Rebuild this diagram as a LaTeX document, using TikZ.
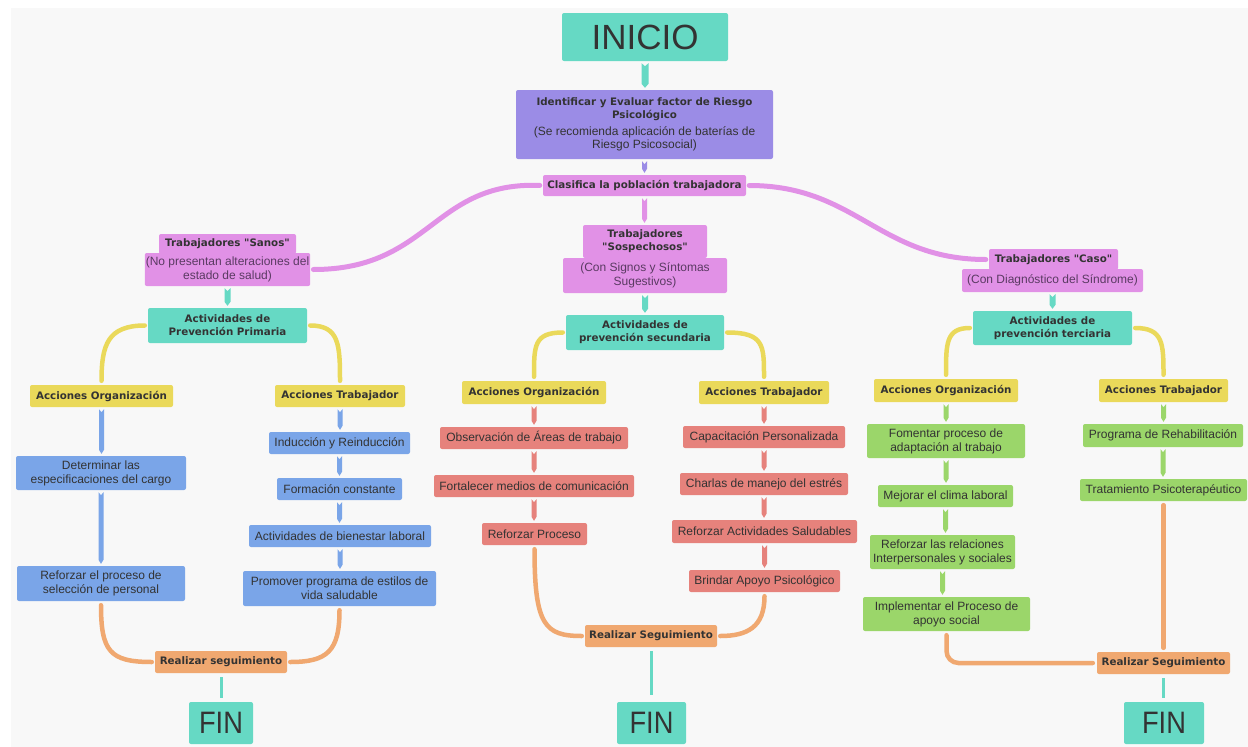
\documentclass[tikz,border=0pt]{standalone}
\usepackage{fontspec}
\usepackage{graphicx}
\setmainfont{Liberation Sans}
\newfontfamily\tfont{DejaVu Sans}
\usetikzlibrary{arrows.meta,calc}
\definecolor{cteal}{HTML}{66D9C4}
\definecolor{cpurp}{HTML}{9B8CE6}
\definecolor{cpink}{HTML}{E191E6}
\definecolor{cyell}{HTML}{EAD95A}
\definecolor{cblue}{HTML}{7AA5E8}
\definecolor{cred}{HTML}{E6827C}
\definecolor{cgreen}{HTML}{9BD66A}
\definecolor{corange}{HTML}{F0A870}
\definecolor{txt}{HTML}{333333}
\definecolor{ptxt}{HTML}{5A3A62}
\definecolor{bg}{HTML}{F8F8F8}
\newcommand{\bt}{\tfont\bfseries\fontsize{10.3}{13}\selectfont}
\newcommand{\rt}{\rmfamily\mdseries\fontsize{12}{14}\selectfont}
\newcommand{\fintxt}{\fontsize{31}{33}\selectfont\scalebox{0.88}[1]{FIN}}
% ribbon connector: colour, half width, from node, to node
\newcommand{\cn}[4]{\fill[#1] let \p1=(#3.south), \p2=(#4.north) in
  ({\x1-#2pt},{\y1-2pt}) -- ({\x1},{\y1-5pt}) -- ({\x1+#2pt},{\y1-2pt}) --
  ({\x1+#2pt},{\y2+6pt}) -- ({\x1},{\y2+2pt}) -- ({\x1-#2pt},{\y2+6pt}) -- cycle;}
\begin{document}
\begin{tikzpicture}[x=1pt,y=-1pt,
  box/.style={rounded corners=2pt, inner sep=1pt, align=center, text=txt, font=\fontsize{12}{14}\selectfont},
  bt/.style={box, font=\bt},
  crv/.style={line width=4.5pt, line cap=round},
]
\useasboundingbox (0,0) rectangle (1248,747);
\fill[white] (0,0) rectangle (1248,747);
\fill[bg] (11,8) rectangle (1248,747);

% top
\node[box, fill=cteal, minimum width=166pt, minimum height=48pt, font=\fontsize{35}{38}\selectfont] (ini) at (645,37) {INICIO};
\node[box, fill=cpurp, minimum width=257pt, minimum height=69pt, font=\bt] (ide) at (644.5,124.5) {Identificar y Evaluar factor de Riesgo\\ Psicológico\\[4pt] \rt (Se recomienda aplicación de baterías de\\ \rt Riesgo Psicosocial)};
\node[bt, fill=cpink, minimum width=203pt, minimum height=21pt] (cla) at (644.5,185.5) {Clasifica la población trabajadora};

% pink groups
\node[bt, fill=cpink, minimum width=137pt, minimum height=20pt] (sant) at (227.5,244) {Trabajadores "Sanos"};
\node[box, fill=cpink, text=ptxt, minimum width=165pt, minimum height=33pt] (sans) at (227.5,269.5) {(No presentan alteraciones del\\ estado de salud)};
\node[bt, fill=cpink, minimum width=124pt, minimum height=33pt] (sost) at (645,241.5) {Trabajadores\\ "Sospechosos"};
\node[box, fill=cpink, text=ptxt, minimum width=164pt, minimum height=35pt] (soss) at (645,275.5) {(Con Signos y Síntomas\\ Sugestivos)};
\node[bt, fill=cpink, minimum width=129pt, minimum height=21pt] (cast) at (1053.5,259.5) {Trabajadores "Caso"};
\node[box, fill=cpink, text=ptxt, minimum width=181pt, minimum height=23pt] (cass) at (1052.5,280.5) {(Con Diagnóstico del Síndrome)};

% actividades
\node[bt, fill=cteal, minimum width=159pt, minimum height=35pt] (ap) at (227.5,325.5) {Actividades de\\ Prevención Primaria};
\node[bt, fill=cteal, minimum width=158pt, minimum height=35pt] (as) at (645,332.5) {Actividades de\\ prevención secundaria};
\node[bt, fill=cteal, minimum width=159pt, minimum height=34pt] (at) at (1052.5,328) {Actividades de\\ prevención terciaria};

% acciones
\node[bt, fill=cyell, minimum width=143pt, minimum height=22pt] (ao1) at (101.5,396) {Acciones Organización};
\node[bt, fill=cyell, minimum width=130pt, minimum height=22pt] (at1) at (340,396) {Acciones Trabajador};
\node[bt, fill=cyell, minimum width=144pt, minimum height=23pt] (ao2) at (534,392.5) {Acciones Organización};
\node[bt, fill=cyell, minimum width=130pt, minimum height=23pt] (at2) at (764,392.5) {Acciones Trabajador};
\node[bt, fill=cyell, minimum width=144pt, minimum height=23pt] (ao3) at (946,390.5) {Acciones Organización};
\node[bt, fill=cyell, minimum width=129pt, minimum height=23pt] (at3) at (1163.5,390.5) {Acciones Trabajador};

% blue
\node[box, fill=cblue, minimum width=170pt, minimum height=34pt] (b1) at (101,473) {Determinar las\\ especificaciones del cargo};
\node[box, fill=cblue, minimum width=168pt, minimum height=35pt] (b2) at (101,583.5) {Reforzar el proceso de\\ selección de personal};
\node[box, fill=cblue, minimum width=141pt, minimum height=22pt] (b3) at (339.5,443) {Inducción y Reinducción};
\node[box, fill=cblue, minimum width=125pt, minimum height=22pt] (b4) at (339.5,489) {Formación constante};
\node[box, fill=cblue, minimum width=182pt, minimum height=22pt] (b5) at (340,536) {Actividades de bienestar laboral};
\node[box, fill=cblue, minimum width=193pt, minimum height=35pt] (b6) at (339.5,588.5) {Promover programa de estilos de\\ vida saludable};

% red
\node[box, fill=cred, minimum width=188pt, minimum height=22pt] (r1) at (534,438) {Observación de Áreas de trabajo};
\node[box, fill=cred, minimum width=200pt, minimum height=22pt] (r2) at (534,486) {Fortalecer medios de comunicación};
\node[box, fill=cred, minimum width=105pt, minimum height=22pt] (r3) at (534.5,534) {Reforzar Proceso};
\node[box, fill=cred, minimum width=162pt, minimum height=22pt] (r4) at (764,437) {Capacitación Personalizada};
\node[box, fill=cred, minimum width=168pt, minimum height=22pt] (r5) at (764,484) {Charlas de manejo del estrés};
\node[box, fill=cred, minimum width=185pt, minimum height=23pt] (r6) at (764.5,531.5) {Reforzar Actividades Saludables};
\node[box, fill=cred, minimum width=151pt, minimum height=22pt] (r7) at (764.5,581) {Brindar Apoyo Psicológico};

% green
\node[box, fill=cgreen, minimum width=158pt, minimum height=34pt] (g1) at (946,441) {Fomentar proceso de\\ adaptación al trabajo};
\node[box, fill=cgreen, minimum width=135pt, minimum height=22pt] (g2) at (945.5,496) {Mejorar el clima laboral};
\node[box, fill=cgreen, minimum width=145pt, minimum height=34pt] (g3) at (942.5,552) {Reforzar las relaciones\\ Interpersonales y sociales};
\node[box, fill=cgreen, minimum width=167pt, minimum height=34pt] (g4) at (946.5,614) {Implementar el Proceso de\\ apoyo social};
\node[box, fill=cgreen, minimum width=160pt, minimum height=23pt] (g5) at (1163,435.5) {Programa de Rehabilitación};
\node[box, fill=cgreen, minimum width=167pt, minimum height=22pt] (g6) at (1163.5,490) {Tratamiento Psicoterapéutico};

% seguimiento
\node[bt, fill=corange, minimum width=132pt, minimum height=22pt] (s1) at (221,662) {Realizar seguimiento};
\node[bt, fill=corange, minimum width=132pt, minimum height=22pt] (s2) at (651,636) {Realizar Seguimiento};
\node[bt, fill=corange, minimum width=133pt, minimum height=22pt] (s3) at (1163.5,663) {Realizar Seguimiento};

% FIN
\node[box, fill=cteal, minimum width=64pt, minimum height=42pt] (f1) at (221,723) {\fintxt};
\node[box, fill=cteal, minimum width=69pt, minimum height=42pt] (f2) at (651.5,723) {\fintxt};
\node[box, fill=cteal, minimum width=80pt, minimum height=42pt] (f3) at (1164,723) {\fintxt};

% straight ribbon connectors
\cn{cteal}{3.5}{ini}{ide}
\cn{cpurp}{2.5}{ide}{cla}
\cn{cpink}{2.5}{cla}{sost}
\cn{cteal}{3}{sans}{ap}
\cn{cteal}{3}{soss}{as}
\cn{cteal}{3}{cass}{at}

\cn{cblue}{2.5}{ao1}{b1}
\cn{cblue}{2.5}{b1}{b2}
\cn{cblue}{2.5}{at1}{b3}
\cn{cblue}{2.5}{b3}{b4}
\cn{cblue}{2.5}{b4}{b5}
\cn{cblue}{2.5}{b5}{b6}

\cn{cred}{2.5}{ao2}{r1}
\cn{cred}{2.5}{r1}{r2}
\cn{cred}{2.5}{r2}{r3}
\cn{cred}{2.5}{at2}{r4}
\cn{cred}{2.5}{r4}{r5}
\cn{cred}{2.5}{r5}{r6}
\cn{cred}{2.5}{r6}{r7}

\cn{cgreen}{2.5}{ao3}{g1}
\cn{cgreen}{2.5}{g1}{g2}
\cn{cgreen}{2.5}{g2}{g3}
\cn{cgreen}{2.5}{g3}{g4}
\cn{cgreen}{2.5}{at3}{g5}
\cn{cgreen}{2.5}{g5}{g6}

\draw[cteal, line width=3pt, shorten <=4pt, shorten >=4pt] (s1.south) -- (s1.south |- f1.north);
\draw[cteal, line width=3pt, shorten <=4pt, shorten >=7pt] (s2.south) -- (s2.south |- f2.north);
\draw[cteal, line width=3pt, shorten <=4pt, shorten >=4pt] (s3.south) -- (s3.south |- f3.north);

% pink curves
\draw[crv, cpink, line width=5pt, shorten <=3pt, shorten >=3pt] (cla.west) .. controls +(-110,-4) and +(120,0) .. (sans.east);
\draw[crv, cpink, line width=5pt, shorten <=3pt, shorten >=3pt] (cla.east) .. controls +(110,0) and +(-110,0) .. (cast.west);

% yellow curves
\draw[crv, cyell, shorten <=3pt, shorten >=4pt] (ap.west) .. controls +(-40,0) and +(0,-40) .. (ao1.north);
\draw[crv, cyell, shorten <=3pt, shorten >=4pt] (ap.east) .. controls +(32,0) and +(0,-40) .. (at1.north);
\draw[crv, cyell, shorten <=3pt, shorten >=4pt] (as.west) .. controls +(-32,0) and +(0,-35) .. (ao2.north);
\draw[crv, cyell, shorten <=3pt, shorten >=4pt] (as.east) .. controls +(40,0) and +(0,-35) .. (at2.north);
\draw[crv, cyell, shorten <=3pt, shorten >=4pt] (at.west) .. controls +(-27,0) and +(0,-35) .. (ao3.north);
\draw[crv, cyell, shorten <=3pt, shorten >=4pt] (at.east) .. controls +(31,0) and +(0,-35) .. (at3.north);

% orange curves
\draw[crv, corange, shorten <=4pt, shorten >=3pt] (b2.south) .. controls +(0,50) and +(-45,0) .. (s1.west);
\draw[crv, corange, shorten <=4pt, shorten >=3pt] (b6.south) .. controls +(0,45) and +(40,0) .. (s1.east);
\draw[crv, corange, shorten <=4pt, shorten >=3pt] (r3.south) .. controls +(0,80) and +(-40,0) .. (s2.west);
\draw[crv, corange, shorten <=4pt, shorten >=3pt] (r7.south) .. controls +(0,35) and +(30,0) .. (s2.east);
\draw[crv, corange, rounded corners=12pt, shorten <=4pt, shorten >=4pt] (g4.south) -- (g4.south |- s3.west) -- (s3.west);
\draw[crv, corange, shorten <=4pt, shorten >=4pt] (g6.south) -- (g6.south |- s3.north);
\end{tikzpicture}
\end{document}
